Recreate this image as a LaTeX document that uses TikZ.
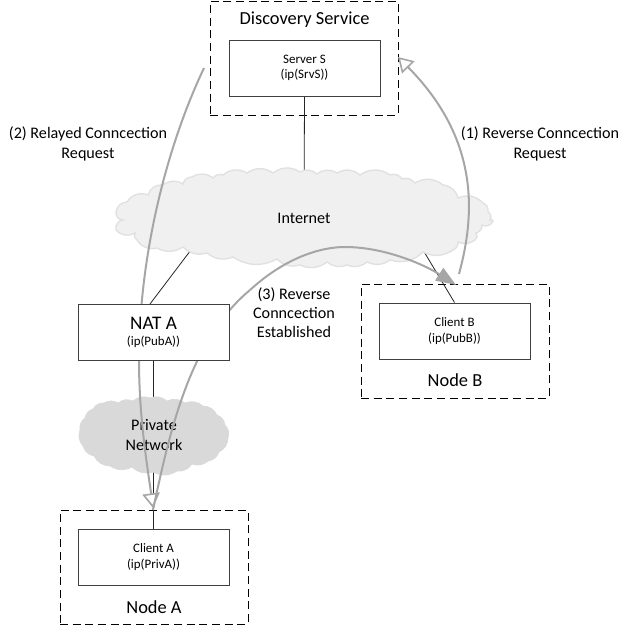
\documentclass[tikz,border=0pt]{standalone}
\usepackage{fontspec}
\setmainfont{Carlito}
\usetikzlibrary{arrows.meta}
\pgfdeclarelayer{back}
\pgfsetlayers{back,main}
\definecolor{boxc}{HTML}{404040}
\definecolor{arrowc}{HTML}{A6A6A6}
\tikzset{x=0.75pt,y=-0.75pt,
  solidbox/.style={draw=boxc,line width=0.75pt,fill=white,minimum width=113.25pt,minimum height=42pt,inner sep=0pt,align=center,font=\fontsize{9.7pt}{12pt}\selectfont},
  dashbox/.style={draw=black,line width=0.75pt,dashed,dash pattern=on 6pt off 3.5pt,fill=white,minimum width=141pt,minimum height=85.5pt,inner sep=0pt},
  link/.style={draw=black!85,line width=0.6pt},
  flow/.style={draw=arrowc,line width=1.5pt},
  opentip/.style={-{Triangle[open,length=11pt,width=13pt,fill=white,line width=1.2pt]}},
  filltip/.style={-{Triangle[length=15pt,width=11pt,fill=arrowc]}},
  label/.style={align=center,inner sep=0pt,font=\fontsize{12.1pt}{14.5pt}\selectfont},
  title/.style={inner sep=0pt,font=\fontsize{13.8pt}{16pt}\selectfont},
}
\begin{document}
\begin{tikzpicture}
\useasboundingbox (0,0) rectangle (631,628);
\coordinate (inet) at (304,218);
\coordinate (inetL) at (200,238);
\coordinate (inetR) at (417,240);
\coordinate (a2s) at (204,68);
\coordinate (a2c) at (139,360);
\coordinate (a2e) at (153,508);
\coordinate (a3s) at (153,510);
\coordinate (a3c) at (250,290);
\coordinate (a3f) at (345,247);
\coordinate (a3e) at (456,285);
\coordinate (a1s) at (459,274);
\coordinate (a1e) at (398,57);
% boxes
\node[solidbox] (srv) at (304.5,68) {\raisebox{-1pt}{Server S}\\(ip(SrvS))};
\node[solidbox] (cb) at (454.5,331) {Client B\\(ip(PubB))};
\node[solidbox] (ca) at (153.5,557) {Client A\\(ip(PrivA))};
\node[solidbox] (nat) at (153.5,332) {{\fontsize{14.4pt}{17pt}\selectfont NAT A}\\(ip(PubA))};
% labels
\node[title] (t1) at (304.5,19.5) {Discovery Service};
\node[title] (t2) at (455,380) {Node B};
\node[title] (t3) at (154,607) {Node A};
\node[label] (l1) at (540,144) {(1) Reverse Conncection\\Request};
\node[label] (l2) at (88,144) {(2) Relayed Conncection\\Request};
\node[label] (l3) at (294,312.5) {(3) Reverse\\Conncection\\Established};
\begin{pgfonlayer}{back}
\node[dashbox] (disc) at (304,58) {};
\node[dashbox] (nodeB) at (455,341) {};
\node[dashbox] (nodeA) at (154,567) {};
\draw[link] (srv.south) -- (inet);
\draw[link] (150,304) -- (inetL);
\draw[link] (cb.north) -- (inetR);
\draw[link] (nat.south) -- (ca.north);
% clouds
\draw[draw=black!12,fill=black!6,line width=1pt]
 (116,212)
 to[bend left=40] (127,202) to[bend left=40] (148,195) to[bend left=40] (163,185) to[bend left=35] (183,184)
 to[bend left=40] (192,177) to[bend left=35] (213,178) to[bend left=35] (223,175) to[bend left=35] (247,173)
 to[bend left=35] (273,173) to[bend left=35] (300,172) to[bend left=35] (317,174) to[bend left=35] (337,173)
 to[bend left=35] (360,175) to[bend left=35] (390,175) to[bend left=40] (402,179) to[bend left=35] (415,183)
 to[bend left=35] (443,185) to[bend left=35] (458,198) to[bend left=35] (483,203) to[bend left=40] (488,212)
 to[bend left=50] (490,220) to[bend left=50] (493,221) to[bend left=50] (482,225) to[bend left=40] (476,233)
 to[bend left=50] (475,240) to[bend left=30] (458,242) to[bend left=35] (453,250) to[bend left=30] (423,252)
 to[bend left=30] (390,260) to[bend left=30] (367,262) to[bend left=30] (347,265) to[bend left=30] (327,262)
 to[bend left=30] (300,265) to[bend left=30] (277,259) to[bend left=30] (233,257) to[bend left=30] (207,253)
 to[bend left=30] (183,247) to[bend left=30] (157,248) to[bend left=35] (137,240) to[bend left=50] (135,233)
 to[bend left=40] (116,230) to[bend left=50] (123,220) to[bend left=50] cycle;
\draw[draw=black!15,fill=black!15,line width=0.5pt]
 (80,430)
 to[bend left=30] (85,418) to[bend left=30] (93,409) to[bend left=30] (104,403) to[bend left=30] (118,403)
 to[bend left=30] (133,401) to[bend left=30] (150,398) to[bend left=30] (167,401) to[bend left=30] (185,403)
 to[bend left=30] (203,406) to[bend left=30] (217,415) to[bend left=30] (225,425) to[bend left=30] (228,438)
 to[bend left=30] (219,452) to[bend left=30] (208,461) to[bend left=30] (192,464) to[bend left=30] (177,471)
 to[bend left=30] (153,472) to[bend left=30] (132,467) to[bend left=30] (110,466) to[bend left=30] (94,456)
 to[bend left=30] (83,446) to[bend left=30] cycle;
\node[label] (inettxt) at (304,218) {Internet};
\node[label] (privtxt) at (154,435) {Private\\Network};
% flows
\draw[flow,opentip] (a1s) .. controls (475,215) and (480,140) .. (a1e);
\draw[flow] (a2s) .. controls (165,150) and (139,260) .. (a2c);
\draw[flow,opentip] (a2c) .. controls (139,420) and (148,470) .. (a2e);
\draw[flow] (a3s) .. controls (170,430) and (190,340) .. (a3c);
\draw[flow] (a3c) .. controls (285,258) and (320,247) .. (a3f);
\draw[flow,filltip] (a3f) .. controls (385,247) and (425,265) .. (a3e);
\end{pgfonlayer}
\end{tikzpicture}
\end{document}
